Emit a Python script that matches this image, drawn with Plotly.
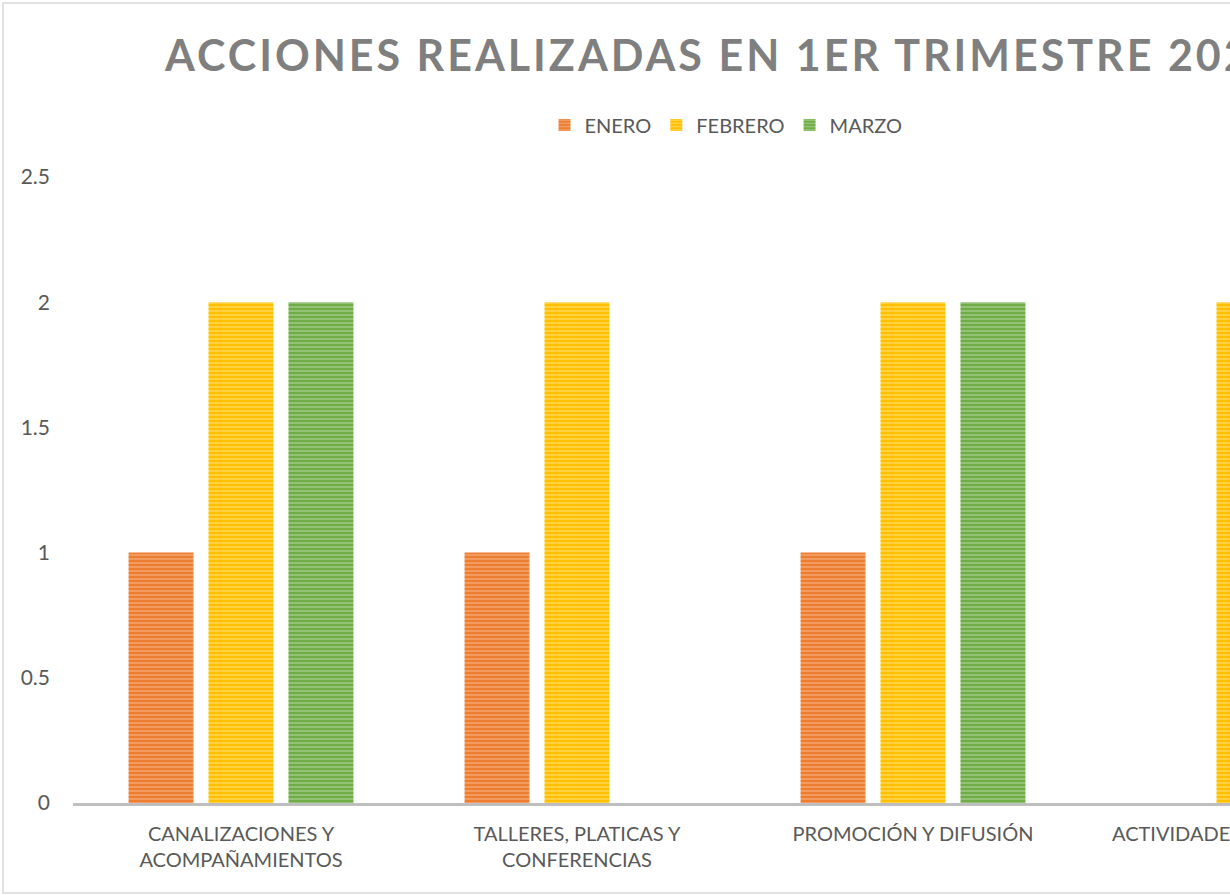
import plotly.graph_objects as go

# ---------------- data ----------------
categories = [
    "CANALIZACIONES Y<br>ACOMPAÑAMIENTOS",
    "TALLERES, PLATICAS Y<br>CONFERENCIAS",
    "PROMOCIÓN Y DIFUSIÓN",
    "ACTIVIDADES COMUNITARIAS",
]
series_names = ["ENERO", "FEBRERO", "MARZO"]
enero = [1, 1, 1, 0]
febrero = [2, 2, 2, 2]
marzo = [2, 0, 2, 2]
y_tick_vals = [0, 0.5, 1, 1.5, 2, 2.5]
y_tick_labels = ["0", "0.5", "1", "1.5", "2", "2.5"]
title_text = "ACCIONES REALIZADAS EN 1ER TRIMESTRE 2023"

# ---------------- styles ----------------
base_colors = ["#ED7D31", "#FFC000", "#70AD47"]
light_colors = ["#F8C9AA", "#FFE9A3", "#C9E2B8"]
FONT = "Lato"
TXT = "#595959"

W, H = 1230, 895
ML, MR, MT, MB = 73, 0, 177, 92
cat_px = 336.0  # pixel width of one category slot
plot_w = W - ML - MR
x_min = -0.5
x_max = x_min + plot_w / cat_px

fig = go.Figure()
for name, vals, c, lc in zip(series_names, [enero, febrero, marzo], base_colors, light_colors):
    fig.add_trace(go.Bar(
        name=name,
        x=list(range(len(categories))),
        y=vals,
        marker=dict(
            color=c,
            line=dict(width=0),
            pattern=dict(shape="-", size=4, solidity=0.4, fgcolor=lc, bgcolor=c),
        ),
    ))

plot_h = H - MT - MB
def py(ypix):
    return (H - MB - ypix) / plot_h
def px(xpix):
    return (xpix - ML) / plot_w

fig.update_layout(
    width=W, height=H,
    margin=dict(l=ML, r=MR, t=MT, b=MB, autoexpand=False),
    paper_bgcolor="white", plot_bgcolor="white",
    barmode="group", bargap=0.286, bargroupgap=0.1875,
    font=dict(family=FONT, color=TXT, size=20),
    title=dict(
        text="<b>" + title_text + "</b>",
        font=dict(family=FONT, size=43, color="#7F7F7F"),
        xref="container", yref="container",
        x=165 / W, xanchor="left",
        y=1 - 56 / H, yanchor="middle",
    ),
    legend=dict(
        orientation="h",
        x=px(726), xanchor="center",
        y=py(125), yanchor="middle",
        font=dict(family=FONT, size=20, color=TXT),
        itemwidth=30,
        traceorder="normal",
    ),
    xaxis=dict(
        range=[x_min, x_max],
        tickmode="array",
        tickvals=list(range(len(categories))),
        ticktext=categories,
        showgrid=False, zeroline=False,
        showline=True, linecolor="#BFBFBF", linewidth=3,
        ticks="", tickfont=dict(family=FONT, size=20, color=TXT),
        ticklabelstandoff=11,
    ),
    yaxis=dict(
        range=[0, 2.5],
        tickmode="array",
        tickvals=y_tick_vals,
        ticktext=y_tick_labels,
        showgrid=False, zeroline=False, showline=False,
        ticks="", tickfont=dict(family=FONT, size=21, color=TXT),
        ticklabelstandoff=22,
    ),
    showlegend=True,
)

# label of the partially visible 4th category (its tick lies beyond the cropped axis)
fig.add_annotation(
    text=categories[3], xref="paper", yref="paper",
    x=px(1110), xanchor="left", y=py(833), yanchor="middle",
    showarrow=False, font=dict(family=FONT, size=20, color=TXT),
)

# chart-area border (cropped on the right)
fig.add_shape(
    type="rect", xref="paper", yref="paper",
    x0=px(3), x1=px(1300), y0=py(893), y1=py(3),
    line=dict(color="#D9D9D9", width=1.5), fillcolor="rgba(0,0,0,0)", layer="below",
)

# wide letter tracking of the title, as in the reference
post = (
    "var s=document.createElement('style');"
    "s.innerHTML='.gtitle{letter-spacing:3px;}';"
    "document.head.appendChild(s);"
)
fig.write_html("out.html", post_script=post)
